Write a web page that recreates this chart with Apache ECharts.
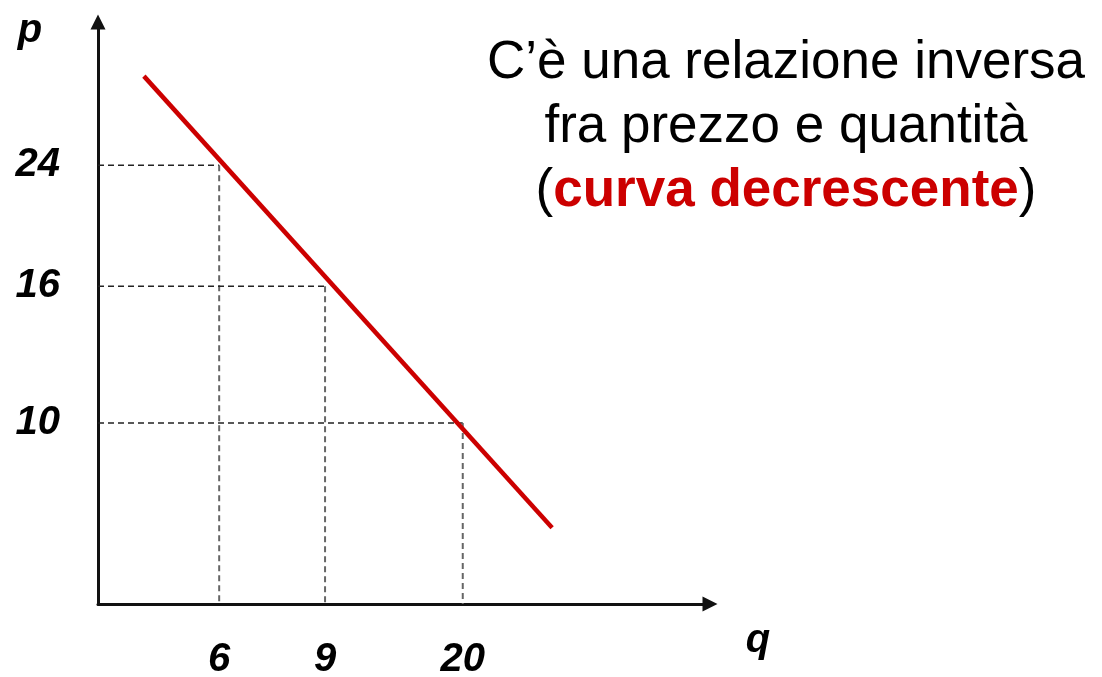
<!DOCTYPE html>
<html>
<head>
<meta charset="utf-8">
<script src="https://cdn.jsdelivr.net/npm/echarts@6/dist/echarts.min.js"></script>
<style>
    html, body { margin: 0; padding: 0; background: #fff; }
    #chart { width: 1102px; height: 677px; }
</style>
</head>
<body>
<div id="chart"></div>
<script>
    const qLabels = ['6', '9', '20'];
    const pLabels = ['24', '16', '10'];
    // posizione schematica sugli assi (il grafico non è in scala)
    const qAt = [1.98, 3.71, 5.96];
    const pAt = [7.54, 5.46, 3.11];
    // estremi della curva di domanda
    const demandQ = [0.75, 7.42];
    const demandP = [9.07, 1.31];

    const FONT = '"Liberation Sans", Arial, sans-serif';
    const RED = '#cc0000';

    let chart = echarts.init(document.getElementById('chart'));

    // linee tratteggiate di riferimento
    let guides = [];
    qAt.forEach(function(q, i) {
        guides.push({
            type: 'line', silent: true, symbol: 'none', z: 1,
            lineStyle: { color: '#222', width: 1.5, type: [6, 4] },
            data: [[0, pAt[i]], [q, pAt[i]]]
        });
        guides.push({
            type: 'line', silent: true, symbol: 'none', z: 1,
            lineStyle: { color: '#666', width: 2, type: [6, 4] },
            data: [[q, pAt[i]], [q, 0]]
        });
    });

    const labelStyle = {
        fontSize: 40, fontWeight: 'bold', fontStyle: 'italic',
        fontFamily: FONT, color: '#000'
    };

    let option = {
        animation: false,
        title: {
            text: 'C’è una relazione inversa\nfra prezzo e quantità\n({r|curva decrescente})',
            left: 786, top: 31, padding: 0,
            textAlign: 'center',
            textStyle: {
                fontSize: 53, fontWeight: 'normal', fontFamily: FONT,
                color: '#000', lineHeight: 64,
                rich: {
                    r: { fontSize: 53, fontWeight: 'bold', fontFamily: FONT, color: RED, lineHeight: 64 }
                }
            }
        },
        grid: { left: 98, top: 22, right: 392, bottom: 73, outerBoundsMode: 'none' },
        xAxis: {
            type: 'value', min: 0, max: 10,
            splitLine: { show: false },
            axisTick: { show: false },
            axisLine: {
                symbol: ['none', 'triangle'], symbolSize: [15, 15],
                lineStyle: { color: '#111', width: 3 }
            },
            axisLabel: Object.assign({
                customValues: qAt, margin: 36,
                formatter: function(v) { return qLabels[qAt.indexOf(v)]; }
            }, labelStyle)
        },
        yAxis: {
            type: 'value', min: 0, max: 10,
            splitLine: { show: false },
            axisTick: { show: false },
            axisLine: {
                symbol: ['none', 'triangle'], symbolSize: [15, 15],
                lineStyle: { color: '#111', width: 3 }
            },
            axisLabel: Object.assign({
                customValues: pAt, margin: 38,
                formatter: function(v) { return pLabels[pAt.indexOf(v)]; }
            }, labelStyle)
        },
        graphic: [
            { type: 'text', style: { text: 'p', x: 30, y: 31, align: 'center', verticalAlign: 'middle', font: 'italic bold 40px ' + FONT, fill: '#000' } },
            { type: 'text', style: { text: 'q', x: 758, y: 641, align: 'center', verticalAlign: 'middle', font: 'italic bold 40px ' + FONT, fill: '#000' } }
        ],
        series: guides.concat([{
            type: 'line', silent: true, symbol: 'none', z: 3,
            lineStyle: { color: RED, width: 4.5 },
            data: [[demandQ[0], demandP[0]], [demandQ[1], demandP[1]]]
        }])
    };
    chart.setOption(option);
</script>
</body>
</html>
